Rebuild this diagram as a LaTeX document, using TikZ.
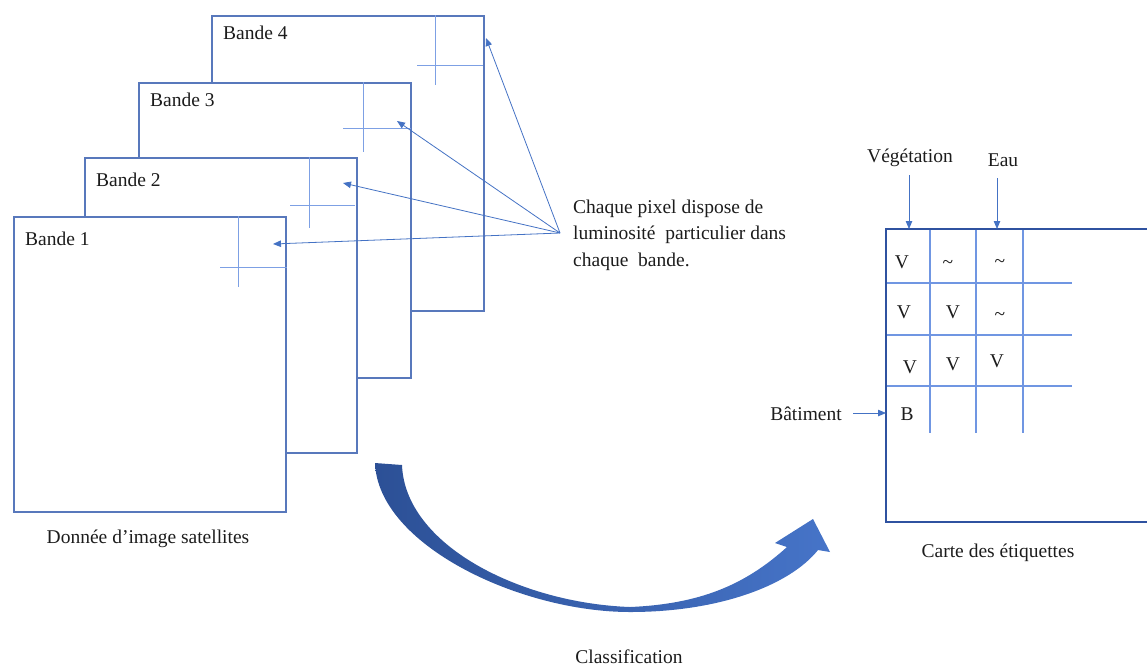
\documentclass[tikz,border=0pt]{standalone}
\usepackage{fontspec}
\setmainfont{Liberation Serif}
\usetikzlibrary{arrows.meta}

\definecolor{bandedge}{RGB}{88,120,188}
\definecolor{crossblue}{RGB}{125,160,228}
\definecolor{arrowblue}{RGB}{68,114,196}
\definecolor{mapedge}{RGB}{47,82,160}
\definecolor{gridblue}{RGB}{112,150,226}
\definecolor{darkflow}{RGB}{44,80,150}
\definecolor{lightflow}{RGB}{70,116,200}
\definecolor{ink}{RGB}{28,28,28}

\begin{document}
\begin{tikzpicture}[x=1pt,y=-1pt,
  band/.style={draw=bandedge, line width=2.4pt, fill=white, inner sep=0pt,
    minimum width=272pt, minimum height=295pt, anchor=north west},
  crossline/.style={draw=crossblue, line width=0.9pt},
  pointer/.style={draw=arrowblue, line width=0.8pt,
    -{Triangle[length=8pt,width=6.5pt]}},
  txt/.style={font=\fontsize{19.5}{26.5}\selectfont, text=ink, inner sep=0pt},
  cell/.style={txt, anchor=base},
  gridline/.style={draw=gridblue, line width=1.1pt},
  mapline/.style={draw=mapedge, line width=1.6pt}]

\useasboundingbox (0,0) rectangle (1147,665);

% ---- stacked spectral bands, back to front ----
\node[band] (b4) at (211,15) {};
\draw[crossline] (435,15) -- (435,85);
\draw[crossline] (417,65) -- (483,65);
\node[txt, anchor=base west] (l4) at (223,39) {Bande 4};

\node[band] (b3) at (138,82) {};
\draw[crossline] (363,82) -- (363,152);
\draw[crossline] (343,128) -- (411,128);
\node[txt, anchor=base west] (l3) at (150,106) {Bande 3};

\node[band] (b2) at (84,157) {};
\draw[crossline] (309,157) -- (309,228);
\draw[crossline] (290,205) -- (355,205);
\node[txt, anchor=base west] (l2) at (96,186) {Bande 2};

\node[band] (b1) at (13,216) {};
\draw[crossline] (238,216) -- (238,287);
\draw[crossline] (220,267) -- (287,267);
\node[txt, anchor=base west] (l1) at (25,245) {Bande 1};

\node[txt, anchor=base] (cap1) at (148,543) {Donnée d’image satellites};

% ---- pixel pointers (base anchor sits on the last line) ----
\node[txt, anchor=base west, align=left] (note) at (573,266)
  {Chaque pixel dispose de\\luminosité \ particulier dans\\chaque \ bande.};
\coordinate (hub) at (560,233);
\coordinate (t4) at (486,38);
\coordinate (t3) at (397,121);
\coordinate (t2) at (343,183);
\coordinate (t1) at (273,244);
\foreach \t in {t1,t2,t3,t4} \draw[pointer] (hub) -- (\t);

% ---- classification arrow ----
\shade[left color=darkflow, right color=lightflow]
  (375,463) .. controls (378,545) and (520,612) .. (630,612)
  .. controls (720,612) and (790,585) .. (818,550)
  -- (830,552) -- (813,519) -- (775,543) -- (787,547)
  .. controls (745,585) and (700,604) .. (630,607)
  .. controls (520,603) and (405,545) .. (402,465) -- cycle;
\node[txt, anchor=base] (cls) at (629,663) {Classification};

% ---- label map ----
\draw[gridline] (930,229) -- (930,433);
\draw[gridline] (976,229) -- (976,433);
\draw[gridline] (1023,229) -- (1023,433);
\draw[gridline] (886,283) -- (1072,283);
\draw[gridline] (886,335) -- (1072,335);
\draw[gridline] (886,386) -- (1072,386);
\draw[mapline] (1147,229) -- (886,229) -- (886,522) -- (1147,522);
\draw[draw=mapedge, line width=2.2pt] (886,229) -- (886,522);

\node[cell] (c11) at (902,268) {V};
\node[cell] (c12) at (948,268) {\textasciitilde};
\node[cell] (c13) at (1000,267) {\textasciitilde};
\node[cell] (c21) at (904,318) {V};
\node[cell] (c22) at (953,318) {V};
\node[cell] (c23) at (1000,320) {\textasciitilde};
\node[cell] (c31) at (910,373) {V};
\node[cell] (c32) at (953,370) {V};
\node[cell] (c33) at (997,367) {V};
\node[cell] (c41) at (907,420) {B};

\node[txt, anchor=base] (veg) at (910,162) {Végétation};
\node[txt, anchor=base] (eau) at (1003,166) {Eau};
\node[txt, anchor=base] (bat) at (806,420) {Bâtiment};
\coordinate (vegFrom) at (909,175);
\coordinate (vegTip) at (909,229);
\coordinate (eauFrom) at (997,178);
\coordinate (eauTip) at (997,229);
\coordinate (batFrom) at (853,413);
\coordinate (batTip) at (886,413);
\draw[pointer] (vegFrom) -- (vegTip);
\draw[pointer] (eauFrom) -- (eauTip);
\draw[pointer] (batFrom) -- (batTip);

\node[txt, anchor=base] (cap2) at (998,557) {Carte des étiquettes};
\end{tikzpicture}
\end{document}
